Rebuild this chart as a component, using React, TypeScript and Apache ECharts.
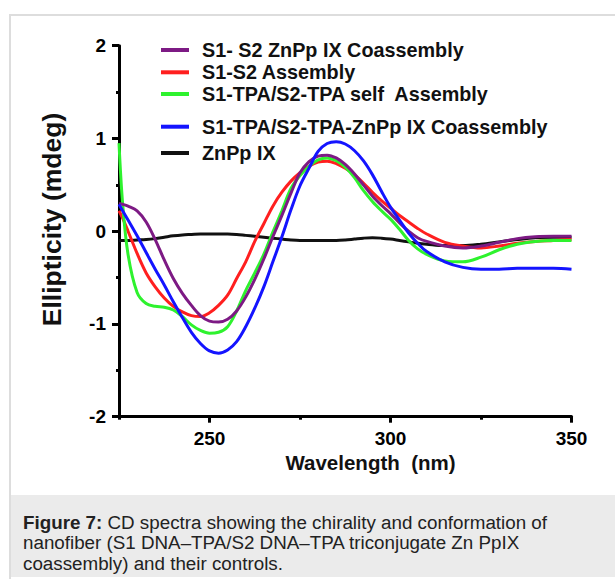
import React, { useEffect, useRef } from "react";
import * as echarts from "echarts";

// ---- Data ----
const wavelengths = [
  225, 226, 227.5, 230, 232.5, 235, 237.5, 240, 242.5, 245, 247.5, 250, 252.5, 255,
  257.5, 260, 262.5, 265, 267.5, 270, 272.5, 275, 277.5, 280, 282.5, 285, 287.5, 290,
  292.5, 295, 297.5, 300, 302.5, 305, 307.5, 310, 315, 320, 325, 330, 335, 340, 345, 350,
];

const purpleCoassembly = [
  0.30, 0.29, 0.27, 0.22, 0.10, -0.09, -0.31, -0.51, -0.67, -0.80, -0.91, -0.97, -0.98, -0.95,
  -0.86, -0.71, -0.52, -0.30, -0.06, 0.17, 0.41, 0.63, 0.75, 0.81, 0.82, 0.79, 0.72, 0.62,
  0.50, 0.38, 0.28, 0.19, 0.09, 0.0, -0.07, -0.11, -0.16, -0.18, -0.16, -0.12, -0.08, -0.06, -0.055, -0.055,
];

const redAssembly = [
  0.22, 0.14, 0.0, -0.24, -0.45, -0.60, -0.72, -0.81, -0.87, -0.91, -0.92, -0.88, -0.80, -0.69,
  -0.51, -0.33, -0.11, 0.08, 0.27, 0.42, 0.54, 0.63, 0.70, 0.745, 0.755, 0.73, 0.68, 0.61,
  0.52, 0.42, 0.33, 0.25, 0.17, 0.10, 0.03, -0.03, -0.12, -0.16, -0.18, -0.16, -0.13, -0.11, -0.10, -0.09,
];

const greenSelfAssembly = [
  0.95, 0.30, -0.25, -0.66, -0.78, -0.81, -0.82, -0.85, -0.92, -1.01, -1.07, -1.10, -1.09, -1.03,
  -0.86, -0.64, -0.45, -0.25, -0.01, 0.22, 0.46, 0.60, 0.70, 0.77, 0.79, 0.76, 0.69, 0.58,
  0.44, 0.32, 0.22, 0.13, 0.02, -0.10, -0.19, -0.25, -0.32, -0.33, -0.28, -0.20, -0.14, -0.11, -0.10, -0.10,
];

const blueTpaCoassembly = [
  0.29, 0.22, 0.12, -0.05, -0.23, -0.41, -0.58, -0.76, -0.93, -1.09, -1.21, -1.29, -1.315, -1.28,
  -1.19, -1.03, -0.83, -0.60, -0.33, -0.06, 0.23, 0.49, 0.68, 0.86, 0.945, 0.965, 0.94, 0.87,
  0.76, 0.61, 0.43, 0.26, 0.12, -0.02, -0.13, -0.22, -0.33, -0.39, -0.41, -0.41, -0.40, -0.40, -0.40, -0.41,
];

const blackZnPpIX = [
  -0.10, -0.10, -0.10, -0.095, -0.09, -0.08, -0.065, -0.05, -0.04, -0.035, -0.03, -0.03, -0.03, -0.03,
  -0.035, -0.045, -0.055, -0.065, -0.075, -0.085, -0.095, -0.10, -0.10, -0.10, -0.10, -0.10, -0.095, -0.085,
  -0.075, -0.07, -0.075, -0.085, -0.10, -0.115, -0.13, -0.14, -0.155, -0.155, -0.14, -0.115, -0.09, -0.07, -0.065, -0.065,
];

const seriesNames = [
  "S1- S2 ZnPp IX Coassembly",
  "S1-S2 Assembly",
  "S1-TPA/S2-TPA self  Assembly",
  "S1-TPA/S2-TPA-ZnPp IX Coassembly",
  "ZnPp IX",
];

const xMajorTicks = [250, 300, 350];
const xMinorTicks = [225, 275, 325];

const captionBold = "Figure 7:";
const captionLines = [
  " CD spectra showing the chirality and conformation of",
  "nanofiber (S1 DNA\u2013TPA/S2 DNA\u2013TPA triconjugate Zn PpIX",
  "coassembly) and their controls.",
];

// ---- Styling / layout ----
const colors = ["#7d1a84", "#ff1f1f", "#2ef22e", "#1414ff", "#111111"];
const legendCenterY = [50, 72.3, 94, 126.7, 153];
const FONT = "'Liberation Sans', Arial, Helvetica, sans-serif";

export default function App() {
  const ref = useRef<HTMLDivElement>(null);

  useEffect(() => {
    if (!ref.current) return;
    const chart = echarts.init(ref.current, undefined, { renderer: "svg" });

    const seriesValues = [purpleCoassembly, redAssembly, greenSelfAssembly, blueTpaCoassembly, blackZnPpIX];
    const drawOrder = [4, 1, 2, 0, 3];

    const series = drawOrder.map((i, k) => ({
      type: "line",
      name: seriesNames[i],
      data: wavelengths.map((w, j) => [w, seriesValues[i][j]]),
      smooth: 0.35,
      symbol: "none",
      showSymbol: false,
      color: colors[i],
      lineStyle: { width: 3, color: colors[i] },
      z: 2 + k,
      xAxisIndex: 0,
      yAxisIndex: 0,
    }));

    const legends = seriesNames.map((name, i) => ({
      data: [name],
      left: 161,
      top: legendCenterY[i] - 10,
      orient: "vertical",
      icon: "rect",
      itemWidth: 28,
      itemHeight: 4,
      padding: 0,
      selectedMode: false,
      textStyle: {
        fontSize: 19.8,
        fontWeight: "bold",
        fontFamily: FONT,
        color: "#111",
        lineHeight: 20,
        padding: [0, 0, 0, 8],
      },
    }));

    const option = {
      animation: false,
      backgroundColor: "#ffffff",
      grid: { left: 119, top: 45.7, right: 43.5, bottom: 162.3, containLabel: false },
      legend: legends,
      xAxis: [
        {
          type: "value",
          min: 225,
          max: 350,
          interval: 25,
          axisLine: { show: true, onZero: false, lineStyle: { color: "#000", width: 3 } },
          axisTick: { show: true, customValues: xMajorTicks, length: 6, lineStyle: { color: "#000", width: 3 } },
          axisLabel: {
            customValues: xMajorTicks,
            fontSize: 19,
            fontWeight: "bold",
            fontFamily: FONT,
            color: "#000",
            margin: 12,
          },
          splitLine: { show: false },
        },
        {
          type: "value",
          min: 225,
          max: 350,
          interval: 25,
          position: "bottom",
          axisLine: { show: false, onZero: false },
          axisTick: { show: true, customValues: xMinorTicks, length: 3, lineStyle: { color: "#000", width: 3 } },
          axisLabel: { show: false },
          splitLine: { show: false },
        },
      ],
      yAxis: {
        type: "value",
        min: -2,
        max: 2,
        interval: 1,
        axisLine: { show: true, onZero: false, lineStyle: { color: "#000", width: 3 } },
        axisTick: { show: true, length: 7, lineStyle: { color: "#000", width: 3 } },
        minorTick: { show: true, splitNumber: 2, length: 3, lineStyle: { color: "#000", width: 3 } },
        axisLabel: {
          fontSize: 19,
          fontWeight: "bold",
          fontFamily: FONT,
          color: "#000",
          margin: 13,
        },
        splitLine: { show: false },
      },
      graphic: [
        {
          type: "rect",
          z: -10,
          silent: true,
          shape: { x: 10, y: 15, width: 620, height: 575 },
          style: { fill: "#ffffff", stroke: "#dddddd", lineWidth: 2 },
        },
        {
          type: "rect",
          z: -9,
          silent: true,
          shape: { x: 11, y: 495, width: 610, height: 82 },
          style: { fill: "#ebebeb" },
        },
        {
          type: "text",
          x: 23,
          y: 511.75,
          style: {
            text: "{b|" + captionBold + "}" + captionLines.join("\n"),
            rich: {
              b: { fontWeight: "bold", fontSize: 18.8, fontFamily: FONT, fill: "#222", lineHeight: 20.5 },
            },
            fontSize: 18.8,
            fontFamily: FONT,
            lineHeight: 20.5,
            fill: "#222",
            textAlign: "left",
            textVerticalAlign: "top",
          },
        },
        {
          type: "text",
          x: 52,
          y: 219.5,
          rotation: Math.PI / 2,
          style: {
            text: "Ellipticity (mdeg)",
            fontSize: 26.5,
            fontWeight: "bold",
            fontFamily: FONT,
            fill: "#111",
            textAlign: "center",
            textVerticalAlign: "middle",
          },
        },
        {
          type: "text",
          x: 370.5,
          y: 462,
          style: {
            text: "Wavelength  (nm)",
            fontSize: 20.5,
            fontWeight: "bold",
            fontFamily: FONT,
            fill: "#111",
            textAlign: "center",
            textVerticalAlign: "middle",
          },
        },
      ],
      series,
    };

    chart.setOption(option as any);
    return () => chart.dispose();
  }, []);

  return (
    <div
      ref={ref}
      style={{ position: "fixed", left: 0, top: 0, width: 615, height: 579 }}
    />
  );
}
